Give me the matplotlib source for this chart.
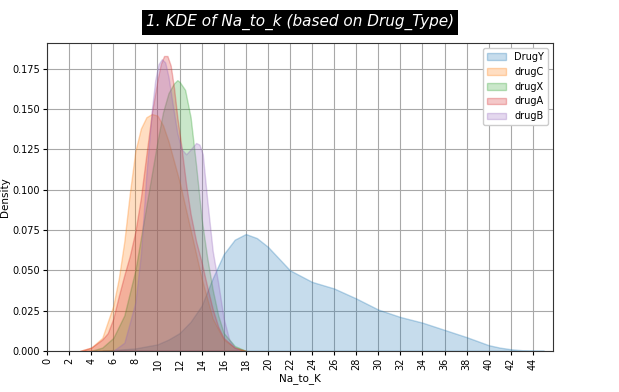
import matplotlib
matplotlib.use('Agg')
import matplotlib.pyplot as plt
import numpy as np
from matplotlib.colors import to_rgba

plt.rcParams['font.family'] = 'DejaVu Sans'
plt.rcParams['font.size'] = 7.5

# Density curves (x = Na_to_K, y = density)
drugY_x = [5, 6, 8, 10, 11, 12, 13, 14, 15, 16, 17, 18, 19, 20, 22, 24, 26, 28, 30,
           32, 34, 36, 38, 39, 40, 41, 42, 43, 44, 45]
drugY_y = [0.0, 0.0005, 0.0015, 0.004, 0.007, 0.011, 0.018, 0.028, 0.045, 0.060, 0.069,
           0.0725, 0.070, 0.0646, 0.050, 0.0428, 0.0387, 0.0325, 0.0256,
           0.021, 0.0175, 0.013, 0.0085, 0.006, 0.0035, 0.002, 0.001, 0.0004, 0.0001, 0.0]

drugC_x = [3, 4, 5, 6, 6.5, 7, 7.5, 8, 8.5, 9, 9.5, 10, 10.5, 11, 12, 13, 14, 15, 16, 17, 18]
drugC_y = [0.0, 0.002, 0.008, 0.028, 0.045, 0.068, 0.098, 0.124, 0.138, 0.145, 0.147, 0.146,
           0.14, 0.13, 0.105, 0.075, 0.045, 0.02, 0.007, 0.002, 0.0]

drugX_x = [4, 5, 6, 7, 8, 9, 10, 10.5, 11, 11.5, 11.8, 12, 12.5, 13, 13.5, 14, 14.5, 15,
           15.5, 16, 17, 18]
drugX_y = [0.0, 0.002, 0.008, 0.022, 0.05, 0.09, 0.13, 0.148, 0.16, 0.166, 0.168, 0.167,
           0.162, 0.145, 0.115, 0.082, 0.058, 0.038, 0.022, 0.011, 0.003, 0.0]

drugA_x = [3, 4, 5, 5.5, 6, 6.5, 7, 7.5, 8, 8.5, 9, 9.5, 10, 10.3, 10.6, 10.9, 11.2, 11.5,
           11.8, 12.2, 12.6, 13, 13.5, 14, 14.5, 15, 15.5, 16, 17, 18]
drugA_y = [0.0, 0.002, 0.007, 0.011, 0.02, 0.034, 0.047, 0.059, 0.074, 0.095, 0.122, 0.148,
           0.168, 0.178, 0.183, 0.183, 0.177, 0.163, 0.145, 0.125, 0.103, 0.085, 0.068,
           0.055, 0.04, 0.026, 0.015, 0.008, 0.002, 0.0]

drugB_x = [6, 7, 8, 8.5, 9, 9.5, 9.8, 10.1, 10.4, 10.7, 11, 11.4, 11.8, 12.2, 12.6, 13,
           13.5, 13.8, 14.1, 14.5, 15, 15.5, 16, 16.5, 17, 17.5]
drugB_y = [0.0, 0.005, 0.03, 0.06, 0.11, 0.15, 0.168, 0.178, 0.181, 0.179, 0.17, 0.152,
           0.135, 0.125, 0.122, 0.125, 0.129, 0.128, 0.122, 0.094, 0.062, 0.042, 0.02,
           0.007, 0.002, 0.0]

names = ['DrugY', 'drugC', 'drugX', 'drugA', 'drugB']
xs = [drugY_x, drugC_x, drugX_x, drugA_x, drugB_x]
ys = [drugY_y, drugC_y, drugX_y, drugA_y, drugB_y]
colors = ['#1f77b4', '#ff7f0e', '#2ca02c', '#d62728', '#9467bd']

xticks = list(range(0, 46, 2))
yticks = [0.0, 0.025, 0.05, 0.075, 0.1, 0.125, 0.15, 0.175]

fig = plt.figure(figsize=(6.19, 3.92), dpi=100)
ax = fig.add_axes([0.076, 0.105, 0.817, 0.785])

for name, x, y, c in zip(names, xs, ys, colors):
    ax.fill_between(x, y, 0, facecolor=to_rgba(c, 0.25), edgecolor=to_rgba(c, 0.3),
                    linewidth=1, label=name)

ax.set_xlim(0, 45.8)
ax.set_ylim(0, 0.191)
ax.set_xticks(xticks)
ax.set_xticklabels([str(t) for t in xticks], rotation=90)
ax.set_yticks(yticks)
ax.set_yticklabels(['%.3f' % t for t in yticks])
ax.tick_params(labelsize=7, length=3, pad=2)
ax.grid(True, color='#a8a8a8', linewidth=0.8)
ax.set_axisbelow(True)
ax.set_xlabel('Na_to_K', labelpad=2)
ax.set_ylabel('Density')
ax.yaxis.set_label_coords(-0.074, 0.5)
for s in ax.spines.values():
    s.set_color('#333333')

ax.legend(loc='upper right', fontsize=7, framealpha=1)

fig.text(0.485, 0.943, '1. KDE of Na_to_k (based on Drug_Type)', ha='center', va='center',
         fontsize=11, style='italic', color='white',
         bbox=dict(facecolor='black', edgecolor='none', pad=3))

fig.savefig('out.png', dpi=100)
